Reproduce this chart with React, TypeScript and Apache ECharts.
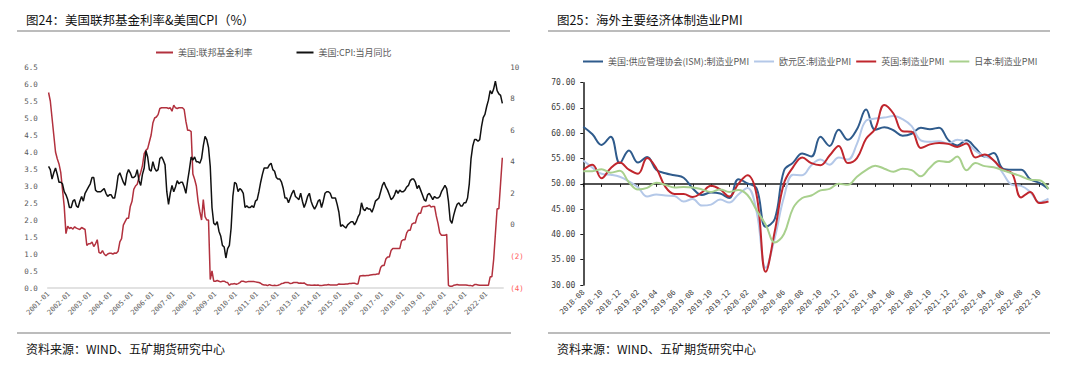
import React, { useEffect, useRef } from "react";
import * as echarts from "echarts";

// ---------- Left chart: Fed funds rate & CPI (monthly 2001-01 .. 2022-10) ----------
const monthsA: string[] = [];
for (let y = 2001; y <= 2022; y++) {
  for (let m = 1; m <= 12; m++) {
    if (y === 2022 && m > 10) break;
    monthsA.push(`${y}-${m < 10 ? "0" + m : m}`);
  }
}

const fedRate: number[] = [
  5.75, 5.5, 5.0, 4.5, 4.0, 3.8, 3.65, 3.4, 2.9, 2.4, 1.6, 1.82,
  1.75, 1.78, 1.73, 1.8, 1.76, 1.74, 1.72, 1.78, 1.75, 1.72, 1.25, 1.3,
  1.3, 1.35, 1.22, 1.3, 1.42, 1.05, 1.02, 1.1, 1.0, 0.95, 1.0, 1.02,
  1.02, 1.0, 1.03, 1.02, 1.08, 1.36, 1.45, 1.85, 1.95, 2.05, 2.05, 2.4,
  2.55, 2.9, 3.0, 3.05, 3.25, 3.4, 3.6, 3.95, 4.05, 4.1, 4.3, 4.5,
  4.85, 5.0, 5.03, 5.1, 5.28, 5.3, 5.3, 5.3, 5.3, 5.28, 5.3, 5.2,
  5.38, 5.3, 5.28, 5.3, 5.3, 5.3, 5.25, 4.9, 4.64, 4.64, 4.6, 3.35,
  3.2, 3.0, 2.55, 2.25, 2.0, 2.6, 2.1, 2.0, 2.0, 0.25, 0.5, 0.2,
  0.2, 0.22, 0.2, 0.18, 0.2, 0.2, 0.17, 0.16, 0.08, 0.12, 0.12, 0.13,
  0.11, 0.13, 0.16, 0.2, 0.2, 0.18, 0.18, 0.19, 0.19, 0.19, 0.19, 0.18,
  0.17, 0.16, 0.14, 0.1, 0.09, 0.09, 0.07, 0.1, 0.08, 0.07, 0.08, 0.07,
  0.08, 0.1, 0.13, 0.14, 0.16, 0.16, 0.16, 0.13, 0.14, 0.16, 0.16, 0.16,
  0.14, 0.15, 0.14, 0.15, 0.11, 0.09, 0.09, 0.08, 0.08, 0.09, 0.08, 0.09,
  0.07, 0.07, 0.08, 0.09, 0.09, 0.1, 0.09, 0.09, 0.09, 0.09, 0.09, 0.12,
  0.11, 0.11, 0.11, 0.12, 0.12, 0.13, 0.13, 0.14, 0.14, 0.12, 0.12, 0.35,
  0.36, 0.37, 0.36, 0.37, 0.37, 0.38, 0.39, 0.4, 0.4, 0.41, 0.41, 0.6,
  0.66, 0.66, 0.85, 0.91, 0.91, 1.1, 1.16, 1.16, 1.16, 1.16, 1.16, 1.38,
  1.42, 1.42, 1.62, 1.7, 1.7, 1.88, 1.91, 1.91, 2.1, 2.2, 2.2, 2.38,
  2.4, 2.4, 2.41, 2.44, 2.38, 2.4, 2.4, 2.12, 1.9, 1.62, 1.55, 1.55,
  1.55, 1.58, 0.08, 0.05, 0.05, 0.08, 0.09, 0.1, 0.09, 0.09, 0.09, 0.09,
  0.09, 0.08, 0.07, 0.07, 0.06, 0.1, 0.1, 0.09, 0.08, 0.08, 0.08, 0.08,
  0.08, 0.08, 0.33, 0.33, 0.83, 1.58, 2.33, 2.33, 3.08, 3.83,
];

const cpiYoY: number[] = [
  3.7, 3.5, 2.9, 3.3, 3.6, 3.2, 2.7, 2.7, 2.6, 2.1, 1.9, 1.6,
  1.1, 1.1, 1.5, 1.6, 1.2, 1.1, 1.5, 1.8, 1.5, 2.0, 2.2, 2.4,
  2.6, 3.0, 3.0, 2.2, 2.1, 2.1, 2.1, 2.2, 2.3, 2.0, 1.8, 1.9,
  1.9, 1.7, 1.7, 2.3, 3.1, 3.3, 3.0, 2.7, 2.5, 3.2, 3.5, 3.3,
  3.0, 3.0, 3.1, 3.5, 2.8, 2.5, 3.2, 3.6, 4.7, 4.3, 3.5, 3.4,
  4.0, 3.6, 3.4, 3.5, 4.2, 4.3, 4.1, 3.8, 2.1, 1.3, 2.0, 2.5,
  2.1, 2.4, 2.8, 2.6, 2.7, 2.7, 2.4, 2.0, 2.8, 3.5, 4.3, 4.1,
  4.3, 4.0, 4.0, 3.9, 4.2, 5.0, 5.6, 5.4, 4.9, 3.7, 1.1, 0.1,
  0.0, 0.2, -0.4, -0.7, -1.3, -1.4, -2.1, -1.5, -1.3, -0.2, 1.8, 2.7,
  2.6, 2.1, 2.3, 2.2, 2.0, 1.1, 1.2, 1.1, 1.1, 1.2, 1.1, 1.5,
  1.6, 2.1, 2.7, 3.2, 3.6, 3.6, 3.6, 3.8, 3.9, 3.5, 3.4, 3.0,
  2.9, 2.9, 2.7, 2.3, 1.7, 1.7, 1.4, 1.7, 2.0, 2.2, 1.8, 1.7,
  1.6, 2.0, 1.5, 1.1, 1.4, 1.8, 2.0, 1.5, 1.2, 1.0, 1.2, 1.5,
  1.6, 1.1, 1.5, 2.0, 2.1, 2.1, 2.0, 1.7, 1.7, 1.7, 1.3, 0.8,
  -0.1, 0.0, -0.1, -0.2, 0.0, 0.1, 0.2, 0.2, 0.0, 0.2, 0.5, 0.7,
  1.4, 1.0, 0.9, 1.1, 1.0, 1.0, 0.8, 1.1, 1.5, 1.6, 1.7, 2.1,
  2.5, 2.7, 2.4, 2.2, 1.9, 1.6, 1.7, 1.9, 2.2, 2.0, 2.2, 2.1,
  2.1, 2.2, 2.4, 2.5, 2.8, 2.9, 2.9, 2.7, 2.3, 2.5, 2.2, 1.9,
  1.6, 1.5, 1.9, 2.0, 1.8, 1.6, 1.8, 1.7, 1.7, 1.8, 2.1, 2.3,
  2.5, 2.3, 1.5, 0.3, 0.1, 0.6, 1.0, 1.3, 1.4, 1.2, 1.2, 1.4,
  1.4, 1.7, 2.6, 4.2, 5.0, 5.4, 5.4, 5.3, 5.4, 6.2, 6.8, 7.0,
  7.5, 7.9, 8.5, 8.3, 8.6, 9.1, 8.5, 8.3, 8.2, 7.7,
];

const leftTicks = { min: 0, max: 6.5, interval: 0.5 };
const rightTicks = { min: -4, max: 10, interval: 2 };

// ---------- Right chart: manufacturing PMI (2018-08 .. 2022-11) ----------
const monthsB: string[] = [];
for (let y = 2018; y <= 2022; y++) {
  for (let m = 1; m <= 12; m++) {
    if (y === 2018 && m < 8) continue;
    if (y === 2022 && m > 11) break;
    monthsB.push(`${y}-${m < 10 ? "0" + m : m}`);
  }
}

const pmiUS: number[] = [
  61.3, 59.8, 57.7, 59.3, 54.1,
  56.6, 54.2, 55.3, 52.8, 52.1, 51.7, 51.2, 49.1, 47.8, 48.3, 48.1, 47.2,
  50.9, 50.1, 49.1, 41.5, 43.1, 52.6, 54.2, 56.0, 55.4, 59.3, 57.5, 60.7,
  58.7, 60.8, 64.7, 60.7, 61.2, 60.6, 59.5, 59.9, 61.1, 60.8, 61.1, 58.7,
  57.6, 58.6, 57.1, 55.4, 56.1, 53.0, 52.8, 52.8, 50.9, 50.2, 49.0,
];
const pmiEZ: number[] = [
  54.6, 53.2, 52.0, 51.8, 51.4,
  50.5, 49.3, 47.5, 47.9, 47.7, 47.6, 46.5, 47.0, 45.7, 45.9, 46.9, 46.3,
  47.9, 49.2, 44.5, 33.4, 39.4, 47.4, 51.8, 51.7, 53.7, 54.8, 53.8, 55.2,
  54.8, 57.9, 62.5, 62.9, 63.1, 63.4, 62.8, 61.4, 58.6, 58.3, 58.4, 58.0,
  58.7, 58.2, 56.5, 55.5, 54.6, 52.1, 49.8, 49.6, 48.4, 46.4, 47.1,
];
const pmiUK: number[] = [
  52.8, 53.8, 51.1, 53.1, 54.2,
  52.8, 52.0, 55.1, 53.1, 49.4, 48.0, 48.0, 47.4, 48.3, 49.6, 48.9, 47.5,
  50.0, 51.7, 47.8, 32.6, 40.7, 50.1, 53.3, 55.2, 54.1, 53.7, 55.6, 57.5,
  54.1, 55.1, 58.9, 60.9, 65.6, 63.9, 60.4, 60.3, 57.1, 57.8, 58.1, 57.9,
  57.3, 58.0, 55.2, 55.8, 54.6, 52.8, 52.1, 47.3, 48.4, 46.2, 46.5,
];
const pmiJP: number[] = [
  52.5, 52.5, 52.9, 52.2, 52.6,
  50.3, 48.9, 49.2, 50.2, 49.8, 49.3, 49.4, 49.3, 48.9, 48.4, 48.9, 48.4,
  48.8, 47.8, 44.8, 41.9, 38.4, 40.1, 45.2, 47.2, 47.7, 48.7, 49.0, 50.0,
  49.8, 51.4, 52.7, 53.6, 53.0, 52.4, 53.0, 52.7, 51.5, 53.2, 54.5, 54.3,
  55.4, 52.7, 54.1, 53.5, 53.3, 52.7, 52.1, 51.5, 50.8, 50.7, 49.0,
];
const pmiTicks = { min: 30, max: 70, interval: 5 };

const CJK = "'Noto Sans CJK SC', 'Noto Sans', sans-serif";
const MONO = "'DejaVu Sans Mono', 'Liberation Mono', monospace";

export default function App() {
  const ref = useRef<HTMLDivElement>(null);

  useEffect(() => {
    if (!ref.current) return;
    const chart = echarts.init(ref.current, undefined, { renderer: "svg" });

    const L = { left: 47.7, top: 67, width: 455.5, height: 221 };
    const R = { left: 583.3, top: 82.7, width: 465.2, height: 202.3 };
    const fiftyOffset = -(R.height * (50 - pmiTicks.min)) / (pmiTicks.max - pmiTicks.min);

    const option: any = {
      animation: false,
      backgroundColor: "#ffffff",
      textStyle: { fontFamily: CJK },
      grid: [L, R],
      legend: [
        {
          data: ["美国:联邦基金利率", "美国:CPI:当月同比"],
          left: 151,
          top: 43,
          icon: "rect",
          itemWidth: 17,
          itemHeight: 2,
          itemGap: 44,
          textStyle: { fontSize: 9, color: "#595959", fontFamily: CJK },
        },
        {
          data: ["美国:供应管理协会(ISM):制造业PMI", "欧元区:制造业PMI", "英国:制造业PMI", "日本:制造业PMI"],
          left: 578,
          top: 52,
          icon: "rect",
          itemWidth: 20,
          itemHeight: 2,
          itemGap: 5,
          textStyle: { fontSize: 9, color: "#595959", fontFamily: CJK },
        },
      ],
      xAxis: [
        {
          type: "category",
          gridIndex: 0,
          data: monthsA,
          boundaryGap: true,
          axisLine: { lineStyle: { color: "#d9d9d9", width: 1.5 } },
          axisTick: { interval: 11, length: 3, lineStyle: { color: "#bfbfbf" } },
          axisLabel: { interval: 11, rotate: 45, fontSize: 7, fontFamily: MONO, color: "#595959", margin: 5 },
          splitLine: { show: false },
        },
        {
          type: "category",
          gridIndex: 1,
          position: "bottom",
          data: monthsB,
          boundaryGap: false,
          axisLine: { show: false },
          axisTick: { show: false },
          axisLabel: { interval: 1, rotate: 45, fontSize: 7.5, fontFamily: MONO, color: "#404040", margin: 6 },
          splitLine: { show: false },
        },
        {
          type: "category",
          gridIndex: 1,
          position: "bottom",
          offset: fiftyOffset,
          data: monthsB,
          boundaryGap: false,
          axisLine: { show: true, onZero: false, lineStyle: { color: "#1a1a1a", width: 1.5 } },
          axisTick: { show: true, interval: 1, length: 3, lineStyle: { color: "#1a1a1a" } },
          axisLabel: { show: false },
          splitLine: { show: false },
        },
      ],
      yAxis: [
        {
          type: "value",
          gridIndex: 0,
          ...leftTicks,
          axisLine: { show: false },
          axisTick: { show: false },
          splitLine: { show: false },
          axisLabel: {
            formatter: (v: number) => v.toFixed(1),
            fontSize: 7.5,
            fontFamily: MONO,
            color: "#595959",
            margin: 10,
          },
        },
        {
          type: "value",
          gridIndex: 0,
          position: "right",
          ...rightTicks,
          axisLine: { show: false },
          axisTick: { show: false },
          splitLine: { show: false },
          axisLabel: {
            formatter: (v: number) => (v < 0 ? `{n|(${-v})}` : `${v}`),
            rich: { n: { color: "#ff5b5b", fontSize: 7.5, fontFamily: MONO } },
            fontSize: 7.5,
            fontFamily: MONO,
            color: "#595959",
            margin: 7,
          },
        },
        {
          type: "value",
          gridIndex: 1,
          ...pmiTicks,
          axisLine: { show: true, lineStyle: { color: "#1a1a1a", width: 1.5 } },
          axisTick: { show: true, length: 3, lineStyle: { color: "#1a1a1a" } },
          splitLine: { show: false },
          axisLabel: {
            formatter: (v: number) => v.toFixed(2),
            fontSize: 8,
            fontFamily: MONO,
            color: "#404040",
            margin: 8,
          },
        },
      ],
      series: [
        {
          name: "美国:联邦基金利率",
          type: "line",
          xAxisIndex: 0,
          yAxisIndex: 0,
          data: fedRate,
          symbol: "none",
          color: "#b2313e",
          lineStyle: { color: "#b2313e", width: 1.5 },
        },
        {
          name: "美国:CPI:当月同比",
          type: "line",
          xAxisIndex: 0,
          yAxisIndex: 1,
          data: cpiYoY,
          symbol: "none",
          color: "#111111",
          lineStyle: { color: "#111111", width: 1.5 },
        },
        {
          name: "美国:供应管理协会(ISM):制造业PMI",
          type: "line",
          xAxisIndex: 1,
          yAxisIndex: 2,
          data: pmiUS,
          symbol: "none",
          smooth: 0.4,
          color: "#2f5b8c",
          lineStyle: { color: "#2f5b8c", width: 2 },
        },
        {
          name: "欧元区:制造业PMI",
          type: "line",
          xAxisIndex: 1,
          yAxisIndex: 2,
          data: pmiEZ,
          symbol: "none",
          smooth: 0.4,
          color: "#b4c8e8",
          lineStyle: { color: "#b4c8e8", width: 2 },
        },
        {
          name: "英国:制造业PMI",
          type: "line",
          xAxisIndex: 1,
          yAxisIndex: 2,
          data: pmiUK,
          symbol: "none",
          smooth: 0.4,
          color: "#c0262d",
          lineStyle: { color: "#c0262d", width: 2 },
        },
        {
          name: "日本:制造业PMI",
          type: "line",
          xAxisIndex: 1,
          yAxisIndex: 2,
          data: pmiJP,
          symbol: "none",
          smooth: 0.4,
          color: "#a8d08d",
          lineStyle: { color: "#a8d08d", width: 2 },
        },
      ],
      graphic: [
        { type: "text", left: 26, top: 13, style: { text: "图24：美国联邦基金利率&美国CPI（%）", fontSize: 12.5, fill: "#111", fontFamily: CJK } },
        { type: "line", shape: { x1: 17, y1: 31, x2: 510, y2: 31 }, style: { stroke: "#a6a6a6", lineWidth: 1.5 } },
        { type: "line", shape: { x1: 17, y1: 333, x2: 511, y2: 333 }, style: { stroke: "#a6a6a6", lineWidth: 1.5 } },
        { type: "text", left: 26, top: 342, style: { text: "资料来源：WIND、五矿期货研究中心", fontSize: 12, fill: "#111", fontFamily: CJK } },
        { type: "text", left: 557, top: 13, style: { text: "图25：海外主要经济体制造业PMI", fontSize: 12.5, fill: "#111", fontFamily: CJK } },
        { type: "line", shape: { x1: 548, y1: 31, x2: 1050, y2: 31 }, style: { stroke: "#a6a6a6", lineWidth: 1.5 } },
        { type: "line", shape: { x1: 548, y1: 333, x2: 1050, y2: 333 }, style: { stroke: "#a6a6a6", lineWidth: 1.5 } },
        { type: "text", left: 557, top: 342, style: { text: "资料来源：WIND、五矿期货研究中心", fontSize: 12, fill: "#111", fontFamily: CJK } },
      ],
    };

    chart.setOption(option);
    return () => chart.dispose();
  }, []);

  return (
    <div
      ref={ref}
      style={{ position: "absolute", left: 0, top: 0, width: 1080, height: 372, background: "#fff" }}
    />
  );
}
